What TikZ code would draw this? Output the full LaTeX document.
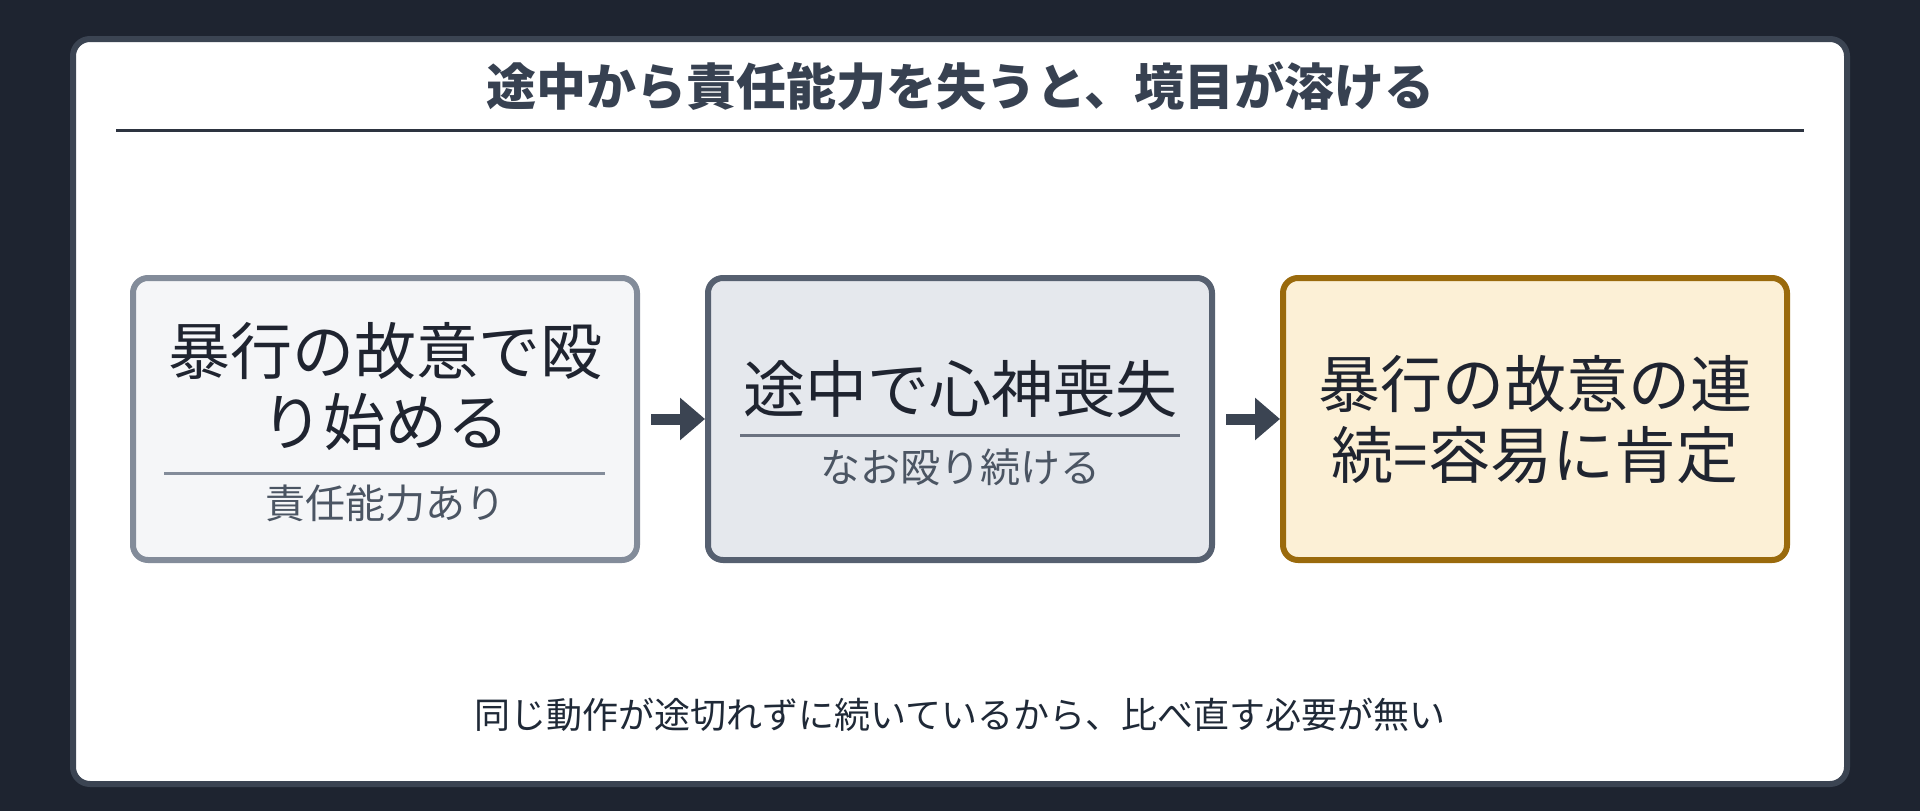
\documentclass[tikz,border=0pt]{standalone}
\usepackage{fontspec}
\setmainfont{Noto Sans CJK JP}
\usetikzlibrary{arrows.meta}
\definecolor{bgdark}{HTML}{1E2430}
\definecolor{panelborder}{HTML}{3B4452}
\definecolor{titlecol}{HTML}{374151}
\definecolor{rulecol}{HTML}{2D3440}
\definecolor{boxAfill}{HTML}{F5F6F8}
\definecolor{boxAline}{HTML}{838C9A}
\definecolor{boxBfill}{HTML}{E5E8ED}
\definecolor{boxBline}{HTML}{566070}
\definecolor{boxBsep}{HTML}{6B7280}
\definecolor{boxCfill}{HTML}{FCF0D6}
\definecolor{boxCline}{HTML}{9A6A0C}
\definecolor{maintext}{HTML}{1F2430}
\definecolor{subtext}{HTML}{4B5563}
\definecolor{arrowcol}{HTML}{3B4452}
\definecolor{bottomtext}{HTML}{1F2937}
\begin{document}
\begin{tikzpicture}[x=1pt,y=-1pt,
  card/.style={draw, line width=6pt, rounded corners=15pt,
    minimum width=504pt, minimum height=282pt, inner sep=0pt},
  maintxt/.style={text=maintext, align=center, inner sep=0pt,
    font=\fontsize{62}{71}\selectfont},
  subtxt/.style={text=subtext, inner sep=0pt, font=\fontsize{40}{46}\selectfont},
  seprule/.style={line width=3pt},
  flow/.style={draw=arrowcol, line width=11pt,
    -{Triangle[length=25pt,width=41pt]}, shorten <=11pt, shorten >=0pt}
]
\useasboundingbox (0,0) rectangle (1920,811);
\fill[bgdark] (0,0) rectangle (1920,811);
\draw[panelborder, fill=white, line width=6pt, rounded corners=17pt] (73,39) rectangle (1847,784);

% title
\node[text=titlecol, inner sep=0pt, font=\fontsize{50}{56}\selectfont\bfseries] (title) at (960,86) {途中から責任能力を失うと、境目が溶ける};
\draw[rulecol, line width=3pt] (116,130) -- (1804,130);

% boxes
\node[card, draw=boxAline, fill=boxAfill] (b1) at (385,419) {};
\node[card, draw=boxBline, fill=boxBfill] (b2) at (960,419) {};
\node[card, draw=boxCline, fill=boxCfill] (b3) at (1535,419) {};

% box 1 content
\node[maintxt] (t1) at (385,386.5) {暴行の故意で殴\\り始める};
\draw[boxAline, seprule] (164,473) -- (605,473);
\node[subtxt] (s1) at (385,503) {責任能力あり};

% box 2 content
\node[maintxt] (t2) at (960,389) {途中で心神喪失};
\draw[boxBsep, seprule] (740,435) -- (1180,435);
\node[subtxt] (s2) at (960,467) {なお殴り続ける};

% box 3 content
\node[maintxt] (t3) at (1535,420) {暴行の故意の連\\続=容易に肯定};

% arrows
\draw[flow] (b1.east) -- (b2.west);
\draw[flow] (b2.east) -- (b3.west);

% bottom text
\node[text=bottomtext, inner sep=0pt, font=\fontsize{36}{42}\selectfont] (note) at (960,715) {同じ動作が途切れずに続いているから、比べ直す必要が無い};
\end{tikzpicture}
\end{document}
